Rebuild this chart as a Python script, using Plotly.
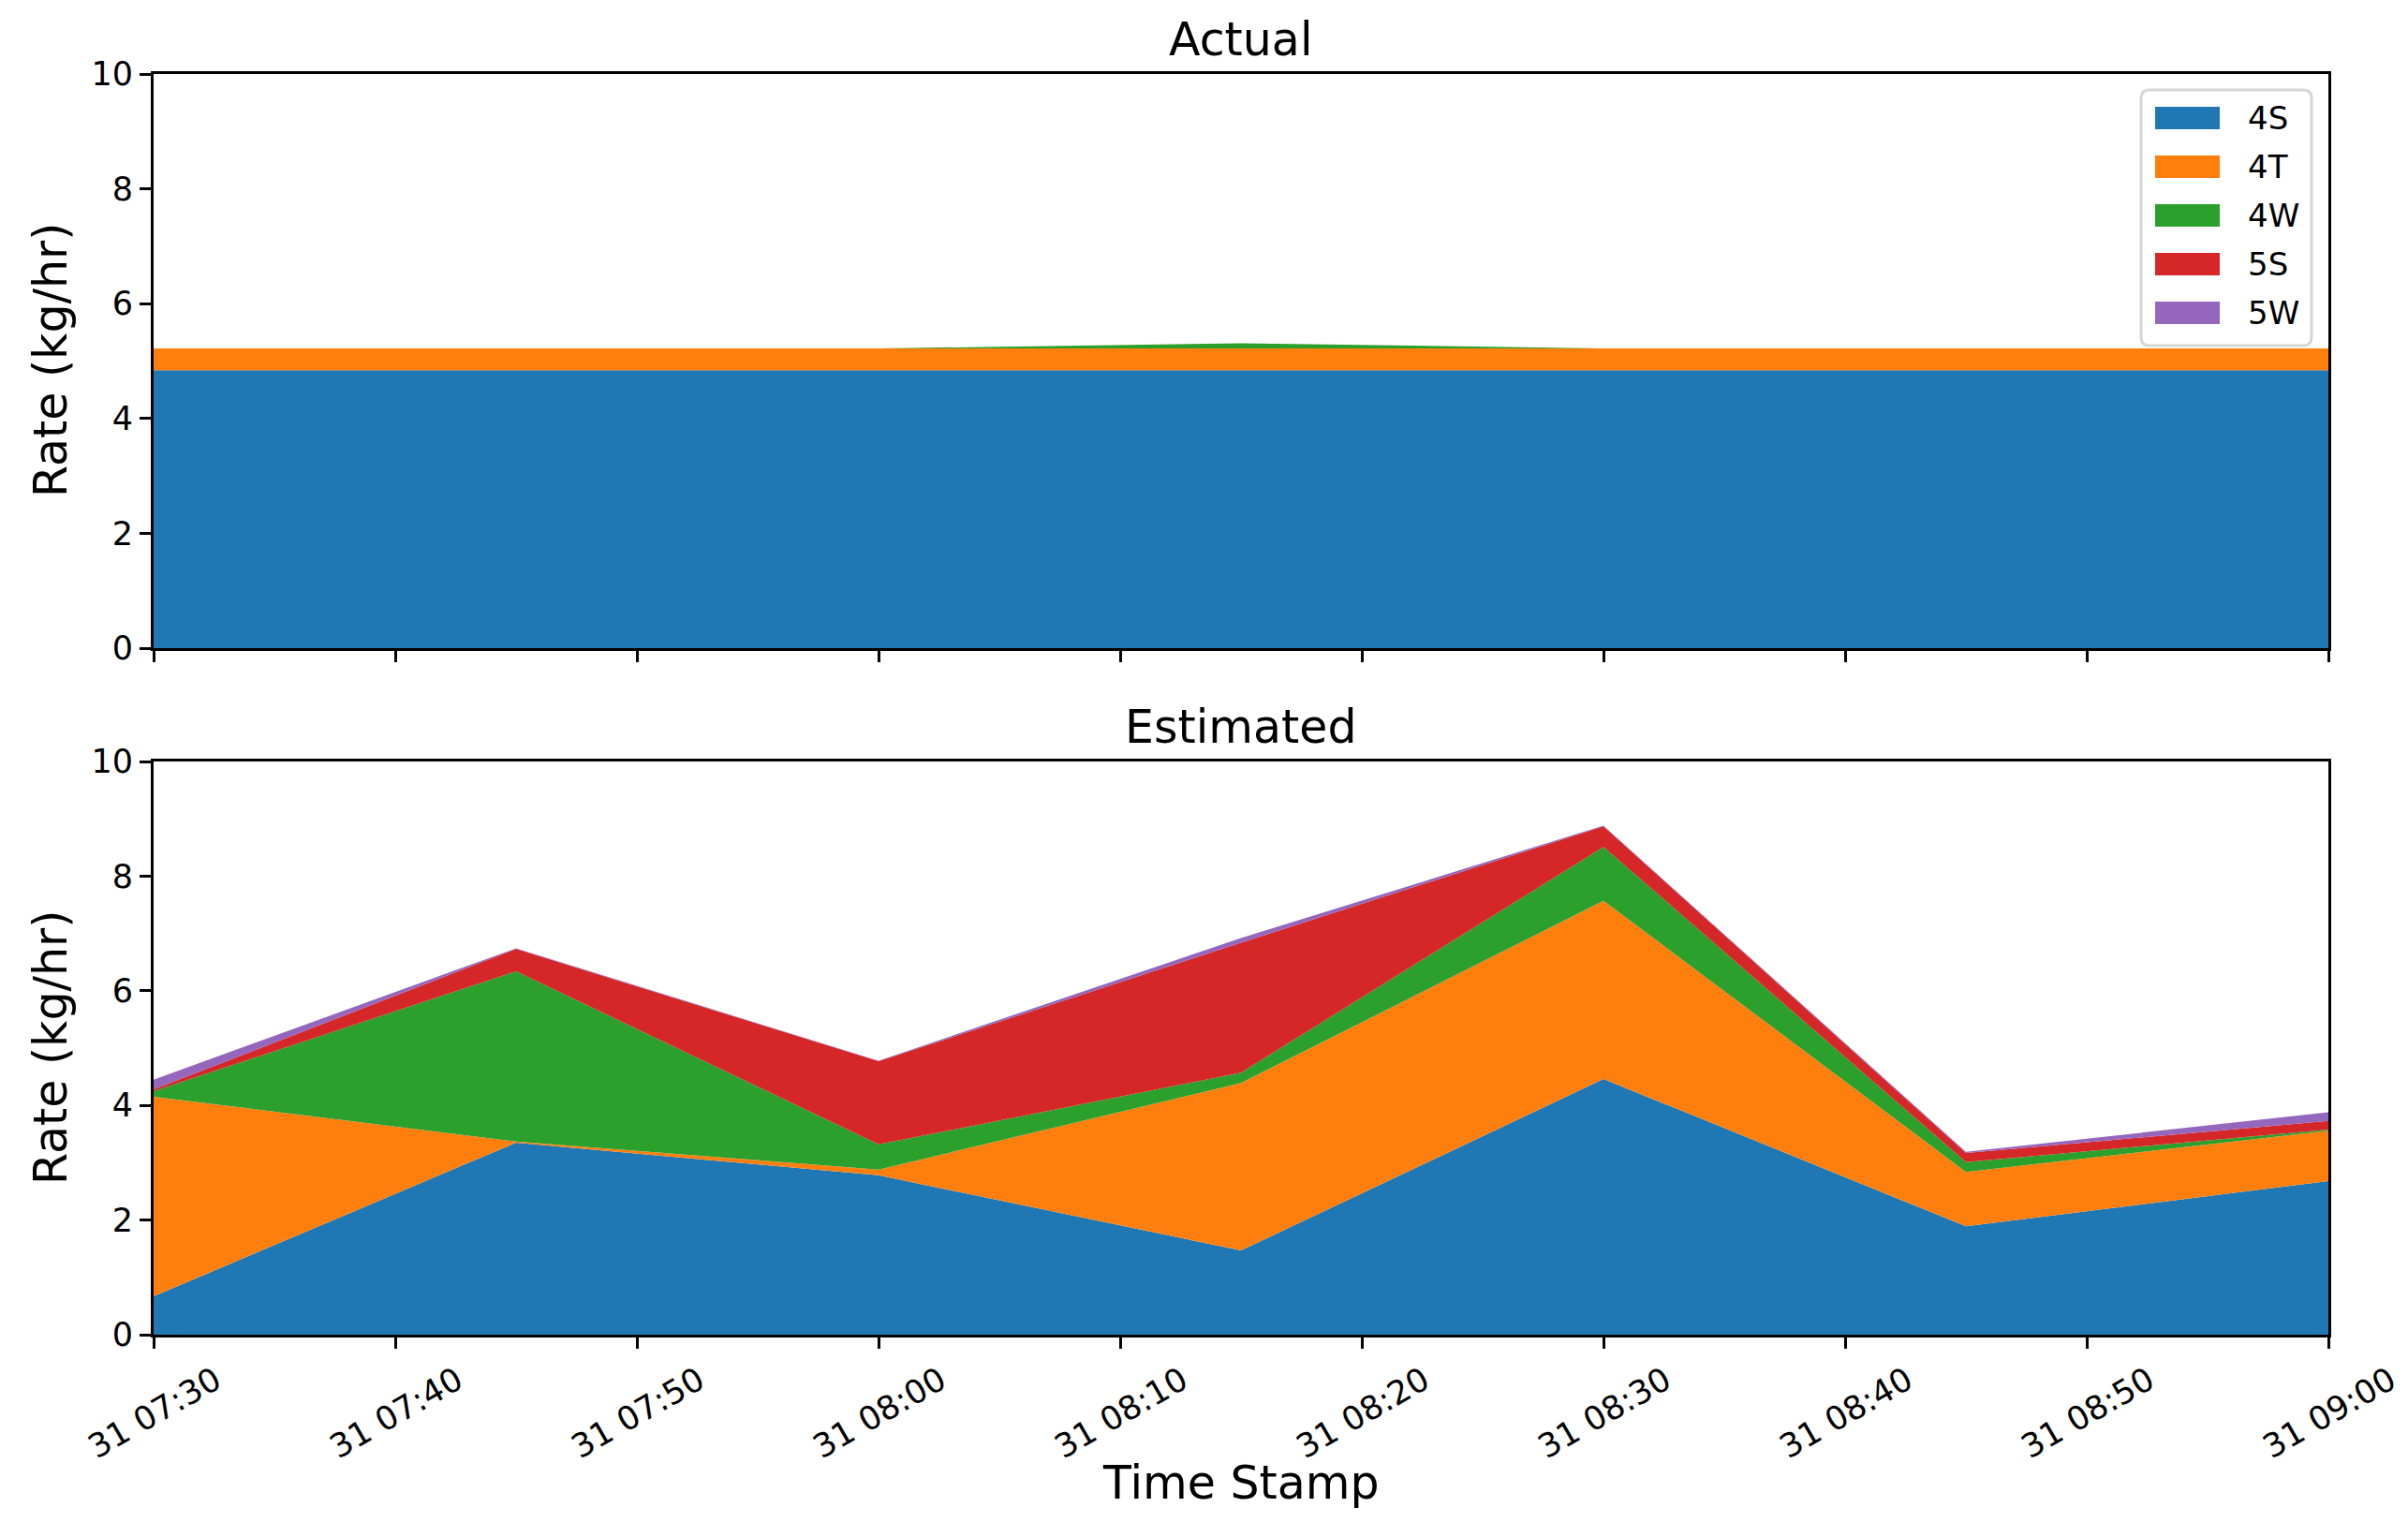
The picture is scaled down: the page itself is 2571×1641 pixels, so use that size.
import plotly.graph_objects as go

# time stamps (15 min steps)
times = [
    "2023-01-31 07:30", "2023-01-31 07:45", "2023-01-31 08:00",
    "2023-01-31 08:15", "2023-01-31 08:30", "2023-01-31 08:45",
    "2023-01-31 09:00",
]
zones = ["4S", "4T", "4W", "5S", "5W"]
colors = ["#1f77b4", "#ff7f0e", "#2ca02c", "#d62728", "#9467bd"]

# actual rates (kg/hr)
actual_4s = [4.84, 4.84, 4.84, 4.84, 4.84, 4.84, 4.84]
actual_4t = [0.38, 0.38, 0.38, 0.38, 0.38, 0.38, 0.38]
actual_4w = [0.0, 0.0, 0.0, 0.09, 0.0, 0.0, 0.0]
actual_5s = [0.0, 0.0, 0.0, 0.0, 0.0, 0.0, 0.0]
actual_5w = [0.0, 0.0, 0.0, 0.0, 0.0, 0.0, 0.0]

# estimated rates (kg/hr)
est_4s = [0.67, 3.35, 2.78, 1.47, 4.46, 1.89, 2.68]
est_4t = [3.48, 0.02, 0.10, 2.92, 3.11, 0.95, 0.88]
est_4w = [0.10, 2.97, 0.44, 0.18, 0.94, 0.17, 0.02]
est_5s = [0.03, 0.39, 1.45, 2.27, 0.36, 0.16, 0.15]
est_5w = [0.17, 0.01, 0.01, 0.08, 0.01, 0.02, 0.15]

actual = [actual_4s, actual_4t, actual_4w, actual_5s, actual_5w]
estimated = [est_4s, est_4t, est_4w, est_5s, est_5w]

W, H = 2571, 1641
OFF = 8  # page body margin
FONT = "DejaVu Sans"


def px_x(p):
    return (p - OFF) / W


def px_y(p):
    return 1 - (p - OFF) / H


fig = go.Figure()

for axis_id, panel in [("", actual), ("2", estimated)]:
    for name, vals, col in zip(zones, panel, colors):
        fig.add_trace(go.Scatter(
            x=times,
            y=vals,
            name=name,
            mode="lines",
            line={"width": 0, "color": col},
            fillcolor=col,
            stackgroup="stack" + axis_id,
            showlegend=False,
            xaxis="x" + axis_id,
            yaxis="y" + axis_id,
        ))

axis_style = dict(
    automargin=False,
    showline=True,
    linecolor="black",
    linewidth=3,
    mirror=True,
    ticks="outside",
    ticklen=12,
    tickwidth=3,
    tickcolor="black",
    showgrid=False,
    zeroline=False,
    tickfont={"family": FONT, "size": 35, "color": "black"},
)

x_dom = [px_x(164), px_x(2486)]
x_common = dict(
    type="date",
    range=[times[0], times[-1]],
    tick0=times[0],
    dtick=600000,
    tickformat="%d %H:%M",
    domain=x_dom,
    **axis_style,
)

fig.update_layout(
    width=W,
    height=H,
    margin={"l": 0, "r": 0, "t": 0, "b": 0},
    plot_bgcolor="white",
    paper_bgcolor="white",
    font={"family": FONT, "color": "black"},
    xaxis=dict(anchor="y", showticklabels=False, **x_common),
    xaxis2=dict(anchor="y2", tickangle=-30, ticklabelshift=66,
                ticklabeloverflow="allow", **x_common),
    yaxis=dict(anchor="x", range=[0, 10], dtick=2,
               domain=[px_y(692), px_y(79)], **axis_style),
    yaxis2=dict(anchor="x2", range=[0, 10], dtick=2,
                domain=[px_y(1425), px_y(813)], **axis_style),
)

# titles and axis labels
labels = [
    ("Actual", 1325, 42, 0),
    ("Estimated", 1325, 776, 0),
    ("Time Stamp", 1325, 1583, 0),
    ("Rate (kg/hr)", 54, 385, -90),
    ("Rate (kg/hr)", 54, 1119, -90),
]
for text, x, y, ang in labels:
    fig.add_annotation(
        text=text, x=px_x(x), y=px_y(y), xref="paper", yref="paper",
        xanchor="center", yanchor="middle", showarrow=False,
        textangle=ang, font={"family": FONT, "size": 49, "color": "black"},
    )

# legend box (matplotlib style, rounded)
lx0, lx1, ly0, ly1, r = 2286, 2468, 96, 369, 9
path = (
    f"M{px_x(lx0 + r)},{px_y(ly0)} L{px_x(lx1 - r)},{px_y(ly0)} "
    f"Q{px_x(lx1)},{px_y(ly0)} {px_x(lx1)},{px_y(ly0 + r)} "
    f"L{px_x(lx1)},{px_y(ly1 - r)} "
    f"Q{px_x(lx1)},{px_y(ly1)} {px_x(lx1 - r)},{px_y(ly1)} "
    f"L{px_x(lx0 + r)},{px_y(ly1)} "
    f"Q{px_x(lx0)},{px_y(ly1)} {px_x(lx0)},{px_y(ly1 - r)} "
    f"L{px_x(lx0)},{px_y(ly0 + r)} "
    f"Q{px_x(lx0)},{px_y(ly0)} {px_x(lx0 + r)},{px_y(ly0)} Z"
)
fig.add_shape(type="path", path=path, xref="paper", yref="paper",
              fillcolor="rgba(255,255,255,0.8)",
              line={"color": "#d6d6d6", "width": 3})

for i, (name, col) in enumerate(zip(zones, colors)):
    cy = 126 + 52 * i
    fig.add_shape(type="rect", xref="paper", yref="paper",
                  x0=px_x(2301), x1=px_x(2370),
                  y0=px_y(cy - 12), y1=px_y(cy + 12),
                  fillcolor=col, line={"width": 0})
    fig.add_annotation(
        text=name, x=px_x(2398), y=px_y(cy), xref="paper", yref="paper",
        xanchor="left", yanchor="middle", showarrow=False,
        font={"family": FONT, "size": 34, "color": "black"},
    )

fig.write_html("out.html")
